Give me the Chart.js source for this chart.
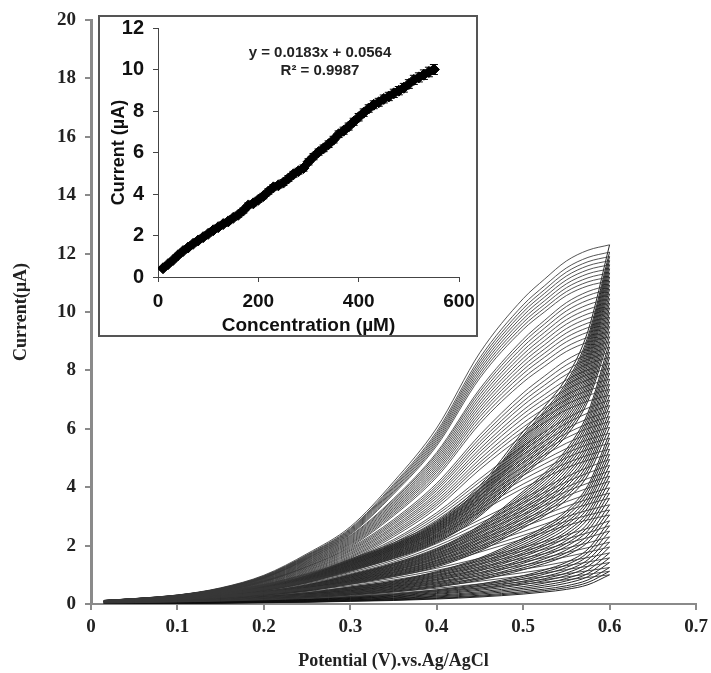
<!DOCTYPE html>
<html lang="en">
<head>
  <meta charset="UTF-8" />
  <title>Cyclic voltammograms with calibration inset</title>
  <script src="https://cdn.jsdelivr.net/npm/chart.js"></script>
  <style>
    html, body { margin: 0; padding: 0; background: #fff; }
    #wrap { position: relative; width: 711px; height: 673px; }
    #mainChart { position: absolute; left: 0; top: 0; }
    #insetBox {
      position: absolute; left: 98px; top: 15px;
      width: 376px; height: 318px;
      border: 2px solid #555; background: #fff;
    }
    #insetChart { position: absolute; left: 0; top: 0; }
    .eq {
      position: absolute; left: 200px; width: 240px; text-align: center;
      font: bold 15px "Liberation Sans", Arial, sans-serif; color: #222;
      line-height: 17px;
    }
  </style>
</head>
<body>
  <div id="wrap">
    <canvas id="mainChart" width="711" height="673"></canvas>
    <div id="insetBox">
      <canvas id="insetChart" width="376" height="318"></canvas>
    </div>
    <div class="eq" style="top:43px">y = 0.0183x + 0.0564</div>
    <div class="eq" style="top:61px">R² = 0.9987</div>
  </div>

  <script>
    // potentials where each sweep was read (V vs Ag/AgCl)
    const potentials = [0.015, 0.05, 0.1, 0.15, 0.2, 0.25, 0.3, 0.35, 0.4, 0.45, 0.5, 0.525, 0.55, 0.575, 0.6];

    // current at the 0.6 V turning point of each voltammogram (µA)
    const peaks = [1.00, 1.12, 1.25, 1.42, 1.58, 1.75, 1.95, 2.12, 2.30, 2.50, 2.68, 2.85, 3.05, 3.22,
      3.40, 3.62, 3.80, 3.98, 4.20, 4.38, 4.55, 4.75, 4.95, 5.12, 5.30, 5.50, 5.68, 5.85, 6.05, 6.25,
      6.42, 6.60, 6.80, 6.98, 7.15, 7.35, 7.52, 7.70, 7.90, 8.08, 8.25, 8.45, 8.62, 8.80, 8.98, 9.15,
      9.32, 9.50, 9.66, 9.82, 9.98, 10.14, 10.30, 10.46, 10.62, 10.78, 10.92, 11.06, 11.20, 11.34,
      11.48, 11.62, 11.76, 11.90, 12.05, 12.30];

    // forward sweep profiles (fraction of the turning-point current),
    // one per band of turning-point currents; fwdFrom gives the lowest peak of each band
    const fwdFrom = [11, 9, 7, 5, 3, 0];
    const fwdProfiles = [
      [0.010, 0.015, 0.025, 0.045, 0.080, 0.140, 0.215, 0.340, 0.490, 0.700, 0.850, 0.905, 0.955, 0.985, 1],
      [0.011, 0.017, 0.028, 0.048, 0.083, 0.140, 0.214, 0.330, 0.475, 0.675, 0.830, 0.890, 0.945, 0.980, 1],
      [0.013, 0.020, 0.032, 0.052, 0.088, 0.142, 0.214, 0.322, 0.460, 0.645, 0.805, 0.870, 0.930, 0.972, 1],
      [0.016, 0.025, 0.040, 0.060, 0.096, 0.148, 0.218, 0.316, 0.448, 0.615, 0.775, 0.845, 0.910, 0.962, 1],
      [0.022, 0.033, 0.052, 0.075, 0.110, 0.162, 0.228, 0.316, 0.436, 0.583, 0.730, 0.805, 0.880, 0.945, 1],
      [0.030, 0.045, 0.070, 0.100, 0.140, 0.190, 0.250, 0.330, 0.430, 0.550, 0.680, 0.750, 0.830, 0.910, 1]
    ];
    // reverse sweep profiles, same idea
    const revFrom = [9, 6, 3, 0];
    const revProfiles = [
      [0.008, 0.012, 0.020, 0.030, 0.050, 0.080, 0.125, 0.170, 0.230, 0.330, 0.480, 0.550, 0.630, 0.760, 1],
      [0.009, 0.013, 0.020, 0.030, 0.048, 0.073, 0.112, 0.155, 0.210, 0.300, 0.430, 0.500, 0.590, 0.730, 1],
      [0.010, 0.014, 0.020, 0.030, 0.046, 0.066, 0.100, 0.135, 0.190, 0.270, 0.385, 0.455, 0.545, 0.695, 1],
      [0.010, 0.015, 0.020, 0.030, 0.045, 0.060, 0.090, 0.120, 0.170, 0.240, 0.340, 0.410, 0.500, 0.660, 1]
    ];

    // inset: calibration data
    const insetConc = [10, 20, 30, 40, 50, 60, 70, 80, 90, 100, 110, 120, 130, 140, 150, 160, 170, 180, 190, 200,
      210, 220, 230, 240, 250, 260, 270, 280, 290, 300, 310, 320, 330, 340, 350, 360, 370, 380, 390, 400,
      410, 420, 430, 440, 450, 460, 470, 480, 490, 500, 510, 520, 530, 540, 550];
    const insetCurrent = [0.42, 0.62, 0.82, 1.05, 1.25, 1.42, 1.60, 1.76, 1.92, 2.08, 2.25, 2.40, 2.55, 2.68, 2.85,
      3.00, 3.20, 3.45, 3.55, 3.72, 3.90, 4.12, 4.32, 4.42, 4.55, 4.75, 4.95, 5.10, 5.25, 5.55,
      5.80, 6.02, 6.20, 6.40, 6.62, 6.88, 7.05, 7.25, 7.48, 7.70, 7.92, 8.12, 8.30, 8.42, 8.58,
      8.70, 8.85, 8.98, 9.12, 9.30, 9.50, 9.62, 9.75, 9.88, 10.00];
    const insetErr = [0.08, 0.08, 0.08, 0.09, 0.09, 0.09, 0.10, 0.10, 0.10, 0.10, 0.10, 0.11, 0.11, 0.11, 0.11,
      0.12, 0.12, 0.12, 0.12, 0.12, 0.13, 0.13, 0.13, 0.13, 0.14, 0.14, 0.14, 0.14, 0.15, 0.15,
      0.15, 0.15, 0.16, 0.16, 0.16, 0.16, 0.17, 0.17, 0.17, 0.18, 0.18, 0.18, 0.19, 0.19, 0.19,
      0.20, 0.20, 0.20, 0.21, 0.21, 0.22, 0.22, 0.23, 0.23, 0.24];

    const serif = "'Liberation Serif', 'Times New Roman', serif";
    const sans = "'Liberation Sans', Arial, sans-serif";

    function pick(from, profiles, p) {
      const i = from.findIndex(f => p >= f);
      return profiles[i];
    }

    const mainSets = [];
    peaks.forEach(p => {
      const fw = pick(fwdFrom, fwdProfiles, p);
      const rv = pick(revFrom, revProfiles, p);
      mainSets.push({
        data: potentials.map((e, j) => ({ x: e, y: p * fw[j] })),
        showLine: true,
        borderColor: 'rgba(55,55,55,0.85)',
        borderWidth: 1,
        pointRadius: 0,
        cubicInterpolationMode: 'monotone'
      });
      mainSets.push({
        data: potentials.map((e, j) => ({ x: e, y: p * rv[j] })),
        showLine: true,
        borderColor: 'rgba(15,15,15,0.9)',
        borderWidth: 1,
        pointRadius: 0,
        cubicInterpolationMode: 'monotone'
      });
    });

    new Chart(document.getElementById('mainChart'), {
      type: 'scatter',
      data: { datasets: mainSets },
      options: {
        responsive: false,
        animation: false,
        layout: { padding: { top: 20, right: 15, left: 0, bottom: 0 } },
        plugins: { legend: { display: false }, tooltip: { enabled: false } },
        scales: {
          x: {
            type: 'linear', min: 0, max: 0.7,
            afterFit(s) { s.height = 69; s.paddingRight = 15; s.paddingLeft = 0; },
            border: { display: true, color: '#8a8a8a', width: 2 },
            grid: { drawOnChartArea: false, drawTicks: true, tickLength: 6, color: '#8a8a8a', lineWidth: 2 },
            ticks: {
              stepSize: 0.1, padding: 6, color: '#222',
              font: { family: serif, size: 19, weight: 'bold' },
              callback: v => v === 0 ? '0' : v.toFixed(1)
            },
            title: {
              display: true, text: 'Potential (V).vs.Ag/AgCl', color: '#222',
              font: { family: serif, size: 18, weight: 'bold' },
              padding: { top: 0, bottom: 1 }
            }
          },
          y: {
            min: 0, max: 20,
            afterFit(s) { s.width = 91; s.paddingTop = 20; s.paddingBottom = 0; },
            border: { display: true, color: '#8a8a8a', width: 3 },
            grid: { drawOnChartArea: false, drawTicks: true, tickLength: 6, color: '#8a8a8a', lineWidth: 2 },
            ticks: {
              stepSize: 2, padding: 9, color: '#222',
              font: { family: serif, size: 19, weight: 'bold' }
            },
            title: {
              display: true, text: 'Current(µA)', color: '#222',
              font: { family: serif, size: 18, weight: 'bold' },
              padding: { top: 11, bottom: 0 }
            }
          }
        }
      }
    });

    // error bars for the inset, placed through the chart's own scales
    const errorBars = {
      id: 'errorBars',
      afterDatasetsDraw(chart) {
        const { ctx, scales: { x, y } } = chart;
        ctx.save();
        ctx.strokeStyle = '#000';
        ctx.lineWidth = 1;
        insetConc.forEach((c, i) => {
          const px = x.getPixelForValue(c);
          const top = y.getPixelForValue(insetCurrent[i] + insetErr[i]);
          const bot = y.getPixelForValue(insetCurrent[i] - insetErr[i]);
          ctx.beginPath();
          ctx.moveTo(px, top); ctx.lineTo(px, bot);
          ctx.moveTo(px - 4, top); ctx.lineTo(px + 4, top);
          ctx.moveTo(px - 4, bot); ctx.lineTo(px + 4, bot);
          ctx.stroke();
        });
        ctx.restore();
      }
    };

    new Chart(document.getElementById('insetChart'), {
      type: 'scatter',
      data: {
        datasets: [{
          data: insetConc.map((c, i) => ({ x: c, y: insetCurrent[i] })),
          pointStyle: 'rectRot',
          pointRadius: 5.5,
          backgroundColor: '#000',
          borderColor: '#000',
          borderWidth: 1
        }]
      },
      plugins: [errorBars],
      options: {
        responsive: false,
        animation: false,
        layout: { padding: { top: 11, right: 17, left: 0, bottom: 0 } },
        plugins: { legend: { display: false }, tooltip: { enabled: false } },
        scales: {
          x: {
            type: 'linear', min: 0, max: 600,
            afterFit(s) { s.height = 58; s.paddingRight = 17; s.paddingLeft = 0; },
            border: { display: true, color: '#444', width: 1 },
            grid: { drawOnChartArea: false, drawTicks: true, tickLength: 5, color: '#444' },
            ticks: { stepSize: 200, padding: 8, color: '#111', font: { family: sans, size: 19, weight: 'bold' } },
            title: {
              display: true, text: 'Concentration (µM)', color: '#111',
              font: { family: sans, size: 19, weight: 'bold', lineHeight: 1 },
              padding: { top: 0, bottom: 0 }
            }
          },
          y: {
            min: 0, max: 12,
            afterFit(s) { s.width = 58; s.paddingTop = 11; s.paddingBottom = 0; },
            border: { display: true, color: '#444', width: 1 },
            grid: { drawOnChartArea: false, drawTicks: true, tickLength: 5, color: '#444' },
            ticks: { stepSize: 2, padding: 9, color: '#111', font: { family: sans, size: 20, weight: 'bold' } },
            title: {
              display: true, text: 'Current (µA)', color: '#111',
              font: { family: sans, size: 18, weight: 'bold', lineHeight: 1 },
              padding: { top: 10, bottom: 0 }
            }
          }
        }
      }
    });
  </script>
</body>
</html>
